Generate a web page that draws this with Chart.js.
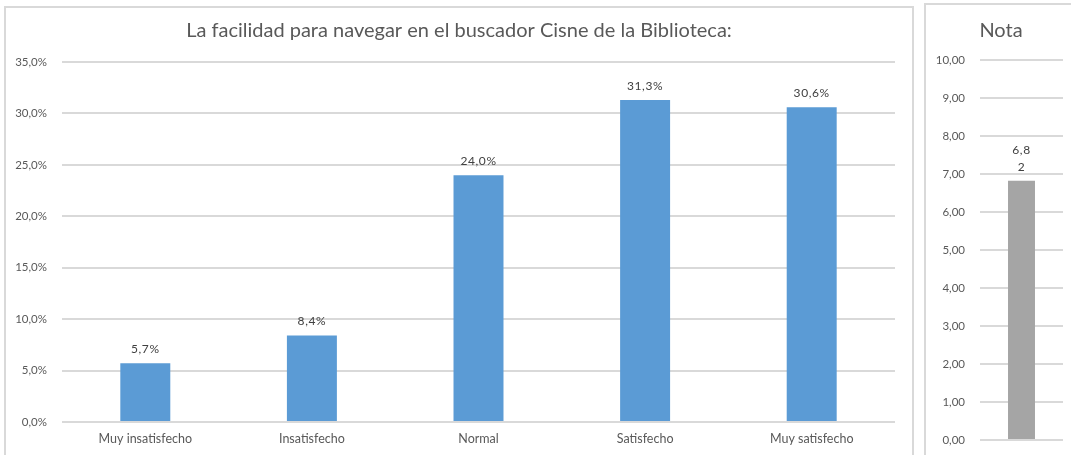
<!DOCTYPE html>
<html>
<head>
<meta charset="utf-8">
<script src="https://cdn.jsdelivr.net/npm/chart.js@4.4.1/dist/chart.umd.min.js"></script>
<style>
  html, body { margin: 0; padding: 0; background: #ffffff; width: 1071px; height: 455px; overflow: hidden; }
  .box { position: absolute; border: 2px solid #d9d9d9; box-sizing: border-box; background: #fff; }
  canvas { position: absolute; }
</style>
</head>
<body>
<div class="box" style="left:4px; top:6px; width:910px; height:470px;"></div>
<div class="box" style="left:924px; top:3px; width:160px; height:470px;"></div>
<canvas id="main" width="918" height="455" style="left:0px; top:0px;"></canvas>
<canvas id="nota" width="140" height="455" style="left:931px; top:0px;"></canvas>
<script>
const mainTitle = "La facilidad para navegar en el buscador Cisne de la Biblioteca:";
const categories = ["Muy insatisfecho", "Insatisfecho", "Normal", "Satisfecho", "Muy satisfecho"];
const percentages = [5.7, 8.4, 24.0, 31.3, 30.6];
const percentTicks = [0, 5, 10, 15, 20, 25, 30, 35];

const notaTitle = "Nota";
const notaCategories = [""];
const notaValues = [6.82];
const notaTicks = [0, 1, 2, 3, 4, 5, 6, 7, 8, 9, 10];

const FONT = "Lato, 'Open Sans', sans-serif";
const TXT = "#595959";
const GRID = "#d9d9d9";

function fmtComma(v, d) { return v.toFixed(d).replace('.', ','); }

function labelPlugin(formatter, lineH, gap) {
  return {
    id: 'valLabels',
    afterDatasetsDraw(chart) {
      const ctx = chart.ctx;
      const meta = chart.getDatasetMeta(0);
      ctx.save();
      ctx.font = "12px " + FONT;
      ctx.fillStyle = "#404040";
      ctx.textAlign = "center";
      ctx.textBaseline = "bottom";
      try { ctx.letterSpacing = "0.6px"; } catch (e) {}
      meta.data.forEach((el, i) => {
        const lines = formatter(chart.data.datasets[0].data[i]);
        for (let k = 0; k < lines.length; k++) {
          const y = el.y - gap - (lines.length - 1 - k) * lineH;
          ctx.fillText(lines[k], el.x, y);
        }
      });
      ctx.restore();
    }
  };
}

function titlePlugin(text) {
  return {
    id: 'centerTitle',
    afterDraw(chart) {
      const ctx = chart.ctx;
      ctx.save();
      ctx.font = "20px " + FONT;
      ctx.fillStyle = TXT;
      ctx.textAlign = "center";
      ctx.textBaseline = "middle";
      ctx.fillText(text, chart.width / 2, 31);
      ctx.restore();
    }
  };
}

new Chart(document.getElementById('main'), {
  type: 'bar',
  data: {
    labels: categories,
    datasets: [{ data: percentages, backgroundColor: "#5b9bd5", categoryPercentage: 1.0, barPercentage: 0.3 }]
  },
  options: {
    responsive: false, animation: false, devicePixelRatio: 1,
    layout: { padding: { left: 10, right: 23, top: 62, bottom: 0 } },
    plugins: { legend: { display: false }, tooltip: { enabled: false }, title: { display: false } },
    scales: {
      x: {
        grid: { display: false, drawTicks: false }, border: { display: false },
        ticks: { color: TXT, font: { family: FONT, size: 12.5 }, padding: 9, maxRotation: 0 },
        afterFit(s) { s.height = 33; }
      },
      y: {
        min: 0, max: 35,
        afterBuildTicks(s) { s.ticks = percentTicks.map(v => ({ value: v })); },
        grid: { color: GRID, lineWidth: 2, drawTicks: false }, border: { display: false },
        ticks: { color: TXT, font: { family: FONT, size: 11.5 }, padding: 15, callback: v => fmtComma(v, 1) + '%' },
        afterFit(s) { s.width = 52; s.paddingTop = 0; }
      }
    }
  },
  plugins: [titlePlugin(mainTitle), labelPlugin(v => [fmtComma(v, 1) + '%'], 14, 8)]
});

new Chart(document.getElementById('nota'), {
  type: 'bar',
  data: {
    labels: notaCategories,
    datasets: [{ data: notaValues, backgroundColor: "#a5a5a5", categoryPercentage: 1.0, barPercentage: 0.325 }]
  },
  options: {
    responsive: false, animation: false, devicePixelRatio: 1,
    layout: { padding: { left: 0, right: 8, top: 60, bottom: 0 } },
    plugins: { legend: { display: false }, tooltip: { enabled: false }, title: { display: false } },
    scales: {
      x: {
        grid: { display: false, drawTicks: false }, border: { display: false },
        ticks: { display: false, padding: 0 },
        afterFit(s) { s.height = 15; }
      },
      y: {
        min: 0, max: 10,
        afterBuildTicks(s) { s.ticks = notaTicks.map(v => ({ value: v })); },
        grid: { color: GRID, lineWidth: 2, drawTicks: false }, border: { display: false },
        ticks: { color: TXT, font: { family: FONT, size: 11.5 }, padding: 15, callback: v => fmtComma(v, 2) },
        afterFit(s) { s.width = 49; s.paddingBottom = 0; s.paddingTop = 0; }
      }
    }
  },
  plugins: [titlePlugin(notaTitle), labelPlugin(v => { const s = fmtComma(v, 2); return [s.slice(0, 3), s.slice(3)]; }, 17, 8)]
});
</script>
</body>
</html>
